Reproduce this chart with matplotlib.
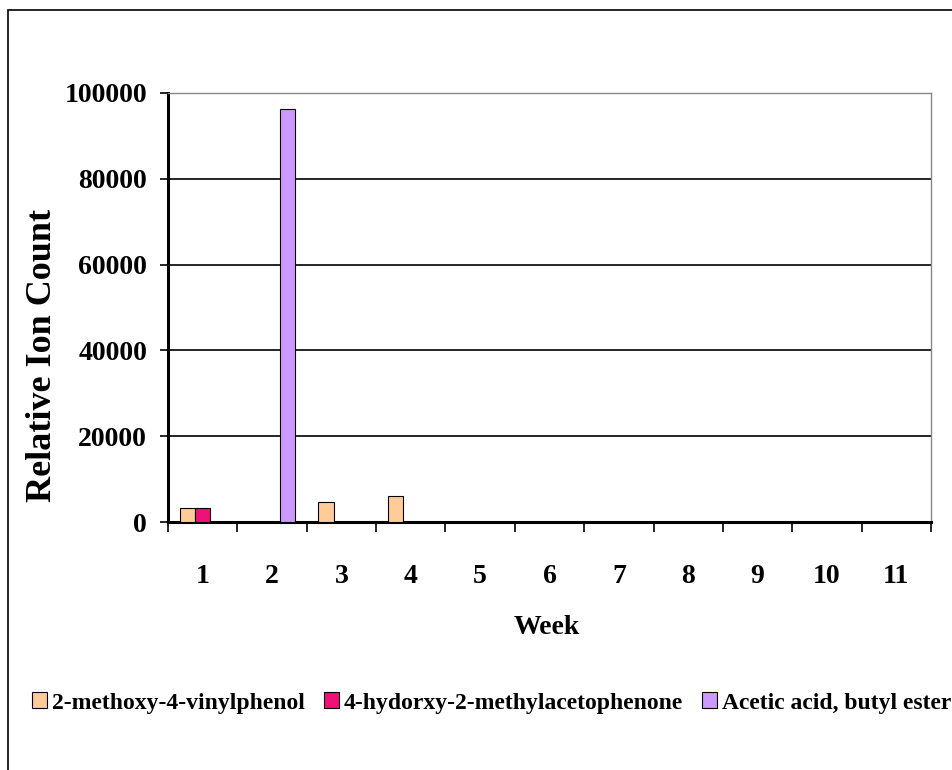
import matplotlib
matplotlib.use('AGG')
import matplotlib.pyplot as plt
import numpy as np
from matplotlib.patches import Rectangle

weeks = [1, 2, 3, 4, 5, 6, 7, 8, 9, 10, 11]
methoxy_vinylphenol = [3300, 0, 4700, 6100, 0, 0, 0, 0, 0, 0, 0]
hydroxy_methylacetophenone = [3300, 0, 0, 0, 0, 0, 0, 0, 0, 0, 0]
butyl_acetate = [0, 96300, 0, 0, 0, 0, 0, 0, 0, 0, 0]

series_names = ['2-methoxy-4-vinylphenol', '4-hydorxy-2-methylacetophenone',
                'Acetic acid, butyl ester']
colors = ['#FFCC99', '#EE1177', '#CC99FF']

plt.rcParams['font.family'] = ['Liberation Serif', 'DejaVu Serif']
plt.rcParams['font.weight'] = 'bold'

fig = plt.figure(figsize=(9.53, 7.70), dpi=100)
ax = fig.add_axes([168 / 953, 1 - 522 / 770, (931 - 168) / 953, (522 - 93) / 770])

# outer chart frame
fig.patches.append(Rectangle((8 / 953, -0.02), 1.0, 1 - 10 / 770 + 0.02,
                             transform=fig.transFigure, fill=False,
                             edgecolor='black', linewidth=1.2))

x = np.array(weeks, dtype=float)
w = 1 / 4.5
data = [methoxy_vinylphenol, hydroxy_methylacetophenone, butyl_acetate]
handles = []
for i, (vals, c) in enumerate(zip(data, colors)):
    vals = np.array(vals, dtype=float)
    mask = vals > 0
    ax.bar(x[mask] + (i - 1) * w, vals[mask], width=w, color=c,
           edgecolor='black', linewidth=0.8, zorder=3)
    handles.append(Rectangle((0, 0), 1, 1, facecolor=c, edgecolor='black', linewidth=0.8))

ax.set_xlim(0.5, 11.5)
ax.set_ylim(0, 100000)
ax.set_yticks(np.arange(0, 100001, 20000))
ax.yaxis.grid(True, color='black', linewidth=1.2, zorder=0)
ax.set_axisbelow(True)

ax.set_xticks(np.arange(0.5, 12, 1))
ax.set_xticklabels([])
ax.set_xticks(x, minor=True)
ax.set_xticklabels([str(wk) for wk in weeks], minor=True)
ax.tick_params(axis='x', which='major', length=7, width=1.2, direction='out')
ax.tick_params(axis='x', which='minor', length=0, pad=30, labelsize=20)
ax.tick_params(axis='y', length=6, width=1.2, direction='out', labelsize=20, pad=9)

for s in ['left', 'bottom']:
    ax.spines[s].set_linewidth(2.2)
ax.spines['top'].set_color('#888888')
ax.spines['right'].set_color('#888888')
ax.spines['top'].set_linewidth(1.0)
ax.spines['right'].set_linewidth(1.0)

fig.text(547 / 953, 1 - 628 / 770, 'Week', fontsize=20, fontweight='bold',
         ha='center', va='center')
fig.text(43 / 953, 1 - 355 / 770, 'Relative Ion Count', fontsize=26, fontweight='bold',
         rotation=90, ha='center', va='center')

fig.legend(handles, series_names, loc='center', bbox_to_anchor=(0.5157, 1 - 703 / 770),
           ncol=3, frameon=False, fontsize=17, handlelength=0.65, handleheight=0.65,
           handletextpad=0.2, columnspacing=0.8, borderpad=0)

fig.savefig('out.png', dpi=100)
